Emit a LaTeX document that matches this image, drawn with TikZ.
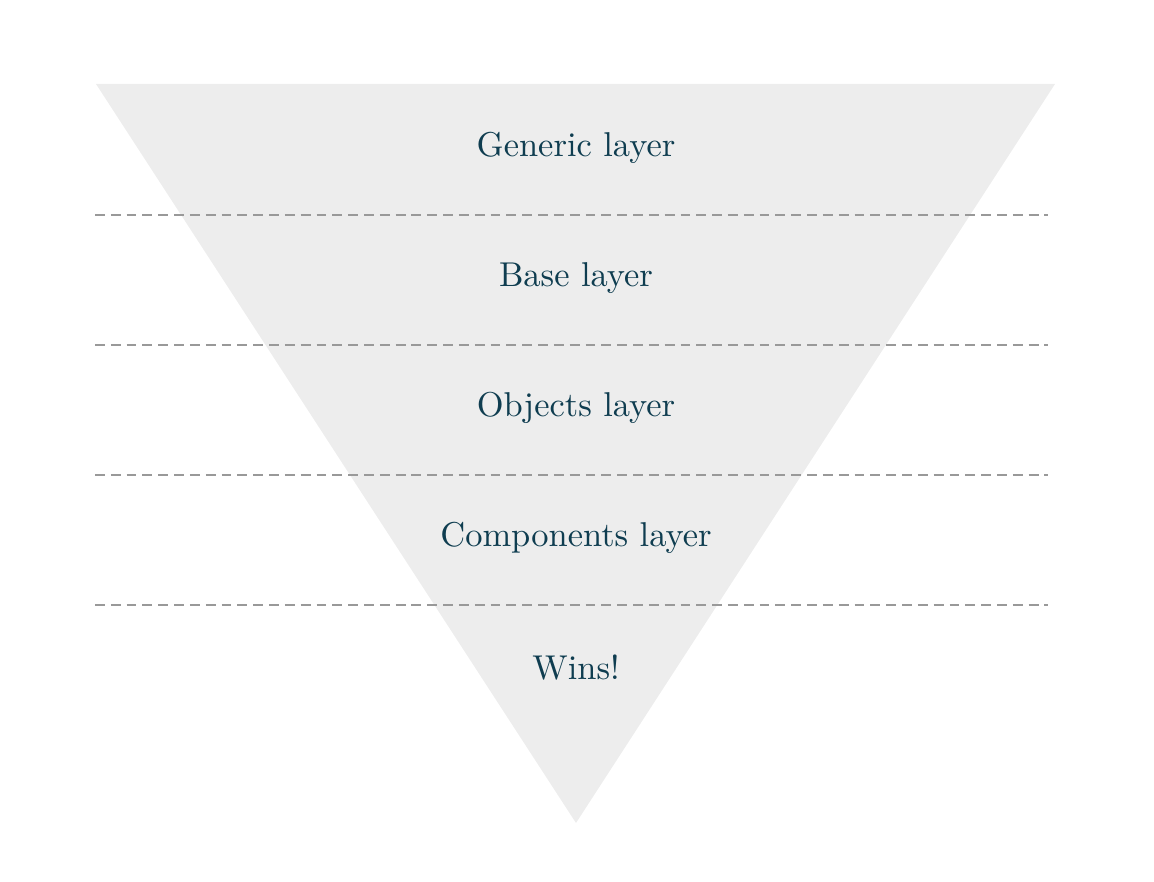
\documentclass[tikz,border=0pt]{standalone}
\definecolor{layerink}{HTML}{0F3D50}
\definecolor{funnelgray}{HTML}{EDEDED}
\definecolor{dashgray}{HTML}{999999}
\tikzset{
  layer/.style={text=layerink, font=\fontsize{9.8}{12}\selectfont},
  divider/.style={dashgray, line width=0.55pt, dash pattern=on 2.8pt off 1.7pt}
}
\begin{document}
\begin{tikzpicture}[x=0.01cm, y=-0.01cm]
                    \useasboundingbox (0,0) rectangle (1154,882);
                    \fill[funnelgray] (96,84) -- (1055,84) -- (576,823) -- cycle;
                    
                    \foreach \y in {215,345,475,605}
                        \draw[divider] (95,\y) -- (1048,\y);
                    
                    \node[layer] (generic) at (576,148) {Generic layer};
                    \node[layer] (base) at (576,278) {Base layer};
                    \node[layer] (objects) at (576,408) {Objects layer};
                    \node[layer] (components) at (576,538) {Components layer};
                    \node[layer] (wins) at (576,668) {Wins!};
                \end{tikzpicture}
\end{document}
